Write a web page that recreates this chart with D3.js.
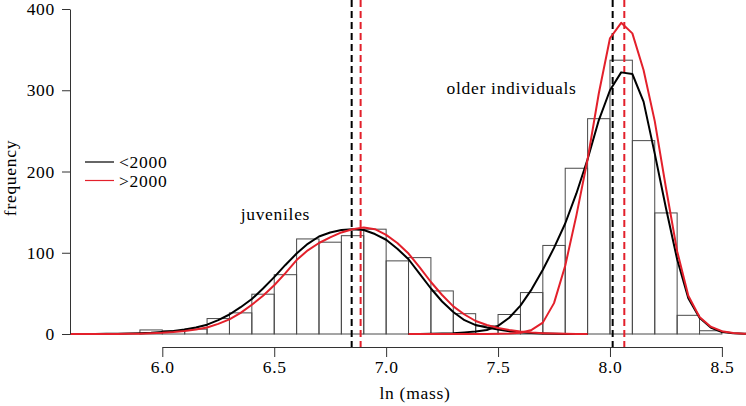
<!DOCTYPE html>
<html>
<head>
<meta charset="utf-8">
<script src="https://cdn.jsdelivr.net/npm/d3@7"></script>
<style>
  html, body { margin: 0; padding: 0; background: #fff; }
  svg { display: block; }
</style>
</head>
<body>
<svg id="chart" width="746" height="406"></svg>
<script>
// ---------- data ----------
// histogram: bin start (ln mass), bin width 0.1
const binStarts = [5.9, 6.0, 6.1, 6.2, 6.3, 6.4, 6.5, 6.6, 6.7, 6.8, 6.9, 7.0, 7.1, 7.2, 7.3, 7.4, 7.5, 7.6, 7.7, 7.8, 7.9, 8.0, 8.1, 8.2, 8.3, 8.4];
const binCounts = [5, 4, 6, 19, 26, 49, 73, 117, 113, 121, 129, 90, 94, 53, 25, 10, 24, 51, 109, 204, 265, 337, 238, 149, 23, 4];
const binWidth = 0.1;

// fitted curves, juvenile component
const juvX = [5.55,5.6,5.65,5.7,5.75,5.8,5.85,5.9,5.95,6.0,6.05,6.1,6.15,6.2,6.25,6.3,6.35,6.4,6.45,6.5,6.55,6.6,6.65,6.7,6.75,6.8,6.85,6.9,6.95,7.0,7.05,7.1,7.15,7.2,7.25,7.3,7.35,7.4,7.45,7.5,7.55,7.6,7.65,7.7,7.75,7.8,7.85,7.9];
const juvBefore2000 = [0,0,0,0.1,0.2,0.3,0.5,0.9,1.5,2.5,3.8,5.5,8,11.5,17,24,33,43,56,70,85,99,111,120,125,128,129,128,123,116,105,92,74,56,40,27,17,11,8,5.5,3.5,2,1.2,0.6,0.3,0.1,0,0];
const juvAfter2000  = [0,0,0,0,0.1,0.1,0.2,0.4,0.8,1.4,2.4,3.8,5.6,8,12.5,18,26,36,47,60,75,91,103,112,119,125,129,131,129,122,112,99,82,64,48,34,24,16,11,7.5,5,3,1.8,1,0.5,0.2,0.1,0];

// fitted curves, older component
const oldX = [7.1,7.15,7.2,7.25,7.3,7.35,7.4,7.45,7.5,7.55,7.6,7.65,7.7,7.75,7.8,7.85,7.9,7.95,8.0,8.05,8.1,8.15,8.2,8.25,8.3,8.35,8.4,8.45,8.5,8.55,8.6,8.65];
const oldBefore2000 = [0,0,0.2,0.5,1,2,3,5,10,20,35,55,79,106,136,173,215,263,300,322,320,286,222,155,92,44,20,8,2.5,0.8,0.2,0];
const oldAfter2000  = [0,0,0,0,0,0,0,0.1,0.2,0.6,1.5,5,14,38,84,146,215,296,364,383,370,325,262,180,102,47,21,9,3.5,1.2,0.4,0];

// means (dashed lines)
const meanBefore2000 = [6.846, 8.012];
const meanAfter2000  = [6.886, 8.064];

// axes / labels
const xTicks = [6.0, 6.5, 7.0, 7.5, 8.0, 8.5];
const yTicks = [0, 100, 200, 300, 400];
const seriesNames = ["<2000", ">2000"];
const seriesColors = ["#000000", "#e3202b"];
const annotations = [
  { text: "juveniles", x: 6.35, y: 140 },
  { text: "older individuals", x: 7.27, y: 295 }
];

// ---------- drawing ----------
const svg = d3.select("#chart");
const x = d3.scaleLinear().domain([6.0, 8.5]).range([162.3, 721.9]);
const y = d3.scaleLinear().domain([0, 400]).range([334, 9]);
const FONT = 17.5, LS = "0.7px";
const FAMILY = "'Liberation Serif', 'Times New Roman', serif";

svg.append("defs").append("clipPath").attr("id", "plotclip")
  .append("rect").attr("x", 70).attr("y", 0).attr("width", 676).attr("height", 406);

// histogram bars
svg.append("g").selectAll("rect").data(binStarts).join("rect")
  .attr("x", (d) => x(d))
  .attr("width", (d) => x(d + binWidth) - x(d))
  .attr("y", (d, i) => y(binCounts[i]))
  .attr("height", (d, i) => y(0) - y(binCounts[i]))
  .attr("fill", "none")
  .attr("stroke", "#4a4a4a")
  .attr("stroke-width", 1);

// dashed mean lines
const means = [
  ...meanBefore2000.map(v => ({ v, c: seriesColors[0] })),
  ...meanAfter2000.map(v => ({ v, c: seriesColors[1] }))
];
svg.append("g").selectAll("line").data(means).join("line")
  .attr("x1", d => x(d.v)).attr("x2", d => x(d.v))
  .attr("y1", 0).attr("y2", 347)
  .attr("stroke", d => d.c)
  .attr("stroke-width", 2)
  .attr("stroke-dasharray", "7,4");

// curves
const line = d3.line().x(d => x(d[0])).y(d => y(d[1]));
const curves = [
  { xs: juvX, ys: juvBefore2000, c: seriesColors[0] },
  { xs: oldX, ys: oldBefore2000, c: seriesColors[0] },
  { xs: juvX, ys: juvAfter2000, c: seriesColors[1] },
  { xs: oldX, ys: oldAfter2000, c: seriesColors[1] }
];
const cg = svg.append("g").attr("clip-path", "url(#plotclip)");
curves.forEach(cv => {
  cg.append("path")
    .datum(cv.xs.map((xv, i) => [xv, cv.ys[i]]))
    .attr("d", line)
    .attr("fill", "none")
    .attr("stroke", cv.c)
    .attr("stroke-width", 2)
    .attr("stroke-linejoin", "round");
});

function styled(sel) {
  return sel.style("font-family", FAMILY).style("font-size", FONT + "px")
    .style("letter-spacing", LS).attr("fill", "#000");
}

// axes
const yAxis = svg.append("g").attr("transform", "translate(70,0)")
  .call(d3.axisLeft(y).tickValues(yTicks).tickSize(8).tickSizeOuter(0).tickPadding(7).tickFormat(d3.format("d")));
const xAxis = svg.append("g").attr("transform", "translate(0,347)")
  .call(d3.axisBottom(x).tickValues(xTicks).tickSize(10).tickSizeOuter(0).tickPadding(4).tickFormat(d3.format(".1f")));
[yAxis, xAxis].forEach(g => {
  g.select(".domain").attr("stroke", "#333").attr("stroke-width", 1);
  g.selectAll(".tick line").attr("stroke", "#333").attr("stroke-width", 1);
  styled(g.selectAll(".tick text"));
});

// axis titles
styled(svg.append("text")
  .attr("transform", "translate(16,178) rotate(-90)")
  .attr("text-anchor", "middle"))
  .text("frequency");
styled(svg.append("text")
  .attr("x", 415).attr("y", 399)
  .attr("text-anchor", "middle"))
  .text("ln (mass)");

// annotations
styled(svg.append("g").selectAll("text").data(annotations).join("text")
  .attr("x", d => x(d.x)).attr("y", d => y(d.y)))
  .text(d => d.text);

// legend
const leg = svg.append("g");
seriesNames.forEach((name, i) => {
  const ly = 162 + i * 18.5;
  leg.append("line").attr("x1", 85).attr("x2", 114).attr("y1", ly).attr("y2", ly)
    .attr("stroke", seriesColors[i]).attr("stroke-width", 1.2);
  styled(leg.append("text").attr("x", 119).attr("y", ly).attr("dy", "0.35em"))
    .text(name);
});
</script>
</body>
</html>
